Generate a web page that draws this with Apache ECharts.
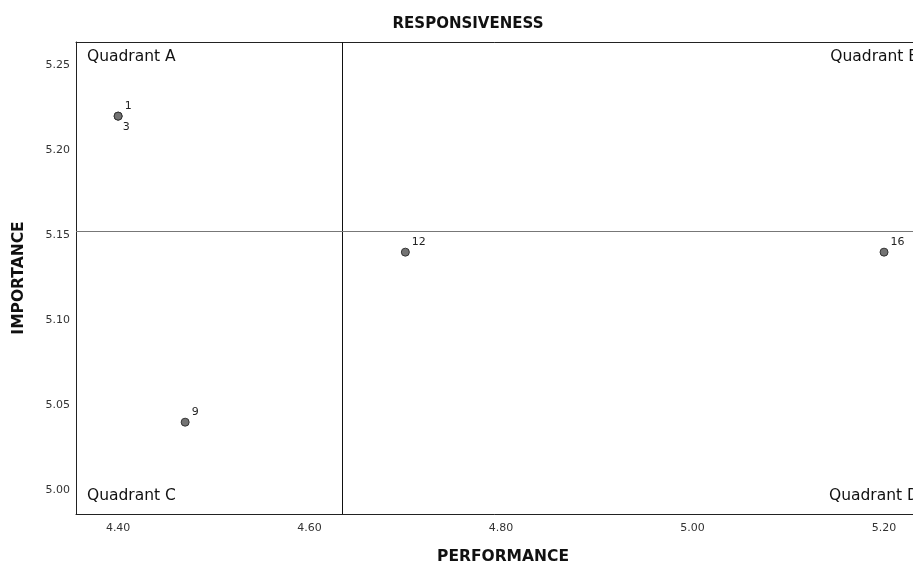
<!DOCTYPE html>
<html>
<head>
<meta charset="utf-8">
<script src="https://cdn.jsdelivr.net/npm/echarts@6/dist/echarts.min.js"></script>
<style>html,body{margin:0;padding:0;background:#fff;}#c{width:913px;height:564px;}</style>
</head>
<body>
<div id="c"></div>
<script>
var ids = ['1', '3', '9', '12', '16'];
var performance = [4.40, 4.40, 4.47, 4.70, 5.20];
var importance = [5.22, 5.22, 5.04, 5.14, 5.14];
var xTicks = [4.40, 4.60, 4.80, 5.00, 5.20];
var yTicks = [5.00, 5.05, 5.10, 5.15, 5.20, 5.25];
var meanPerformance = 4.634;
var meanImportance = 5.1524;
var quadrants = ['Quadrant A', 'Quadrant B', 'Quadrant C', 'Quadrant D'];

var FONT = 'DejaVu Sans';
var seen = {};
var data = ids.map(function (id, i) {
  var key = performance[i] + '_' + importance[i];
  var dup = seen[key];
  seen[key] = true;
  return {
    value: [performance[i], importance[i]],
    name: id,
    label: { offset: dup ? [-1, 11] : [1, -10] }
  };
});

var chart = echarts.init(document.getElementById('c'));
chart.setOption({
  animation: false,
  title: {
    text: 'RESPONSIVENESS', left: 463, top: 12, textAlign: 'center',
    textStyle: { fontFamily: FONT, fontWeight: 'bold', fontSize: 15, color: '#111' }
  },
  grid: { left: 76, top: 42, width: 854, height: 472, outerBoundsMode: 'none', containLabel: false },
  xAxis: [{
    type: 'value', min: 4.356, max: 5.248,
    name: 'PERFORMANCE', nameLocation: 'middle', nameGap: 35,
    nameTextStyle: { fontFamily: FONT, fontWeight: 'bold', fontSize: 15.5, color: '#111' },
    axisLine: { show: true, lineStyle: { color: '#222', width: 1 } },
    axisTick: { show: false },
    splitLine: { show: false },
    axisLabel: {
      customValues: xTicks, margin: 9,
      formatter: function (v) { return v.toFixed(2); },
      fontFamily: FONT, fontSize: 11, color: '#333'
    }
  }, {
    type: 'value', position: 'top', min: 4.356, max: 5.248,
    axisLine: { show: true, onZero: false, lineStyle: { color: '#222', width: 1 } },
    axisTick: { show: false }, axisLabel: { show: false }, splitLine: { show: false }
  }],
  yAxis: {
    type: 'value', min: 4.986, max: 5.2636,
    name: 'IMPORTANCE', nameLocation: 'middle', nameGap: 49, nameRotate: 90,
    nameTextStyle: { fontFamily: FONT, fontWeight: 'bold', fontSize: 15.5, color: '#111' },
    axisLine: { show: true, lineStyle: { color: '#222', width: 1 } },
    axisTick: { show: false },
    splitLine: { show: false },
    axisLabel: {
      customValues: yTicks, margin: 6,
      formatter: function (v) { return v.toFixed(2); },
      fontFamily: FONT, fontSize: 11, color: '#333'
    }
  },
  series: [{
    type: 'scatter',
    data: data,
    symbolSize: 8,
    itemStyle: { color: '#737373', borderColor: '#333', borderWidth: 1, opacity: 1 },
    label: {
      show: true, position: 'right', distance: 1,
      formatter: function (p) { return p.name; },
      fontFamily: FONT, fontSize: 11, color: '#222'
    },
    markLine: {
      silent: true, symbol: 'none', label: { show: false }, precision: 4,
      data: [
        { xAxis: meanPerformance, lineStyle: { color: '#111', width: 1, type: 'solid' } },
        { yAxis: meanImportance, lineStyle: { color: '#777', width: 1.2, type: 'solid' } }
      ]
    }
  }],
  graphic: [
    { type: 'text', left: 87, top: 49, style: { text: quadrants[0], font: '15.5px "DejaVu Sans"', fill: '#111' } },
    { type: 'text', right: -6, top: 49, style: { text: quadrants[1], font: '15.5px "DejaVu Sans"', fill: '#111' } },
    { type: 'text', left: 87, top: 488, style: { text: quadrants[2], font: '15.5px "DejaVu Sans"', fill: '#111' } },
    { type: 'text', right: -6, top: 488, style: { text: quadrants[3], font: '15.5px "DejaVu Sans"', fill: '#111' } }
  ]
});
</script>
</body>
</html>
